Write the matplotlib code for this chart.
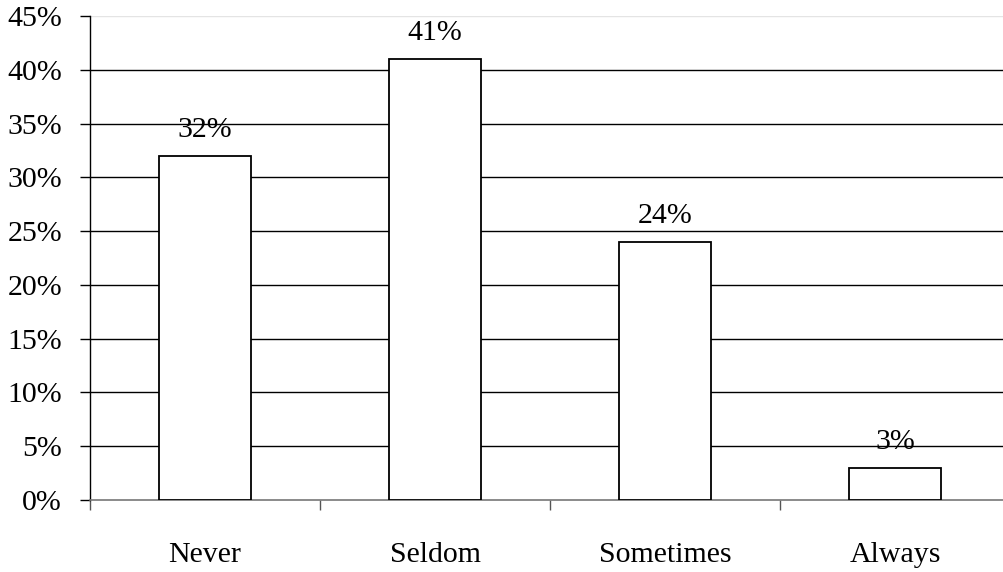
import matplotlib
matplotlib.use("Agg")
import matplotlib.pyplot as plt
from matplotlib.ticker import FixedLocator, FuncFormatter

categories = ["Never", "Seldom", "Sometimes", "Always"]
values = [32, 41, 24, 3]
y_ticks = [0, 5, 10, 15, 20, 25, 30, 35, 40, 45]

plt.rcParams["font.family"] = ["Liberation Serif", "DejaVu Serif"]
FS = 21.5

fig = plt.figure(figsize=(10.04, 5.72), dpi=100)
ax = fig.add_axes([90 / 1004, 72 / 572, 920 / 1004, 484 / 572])

x = list(range(len(categories)))
ax.bar(x, values, width=0.404, color="white", edgecolor="black",
       linewidth=1.3, zorder=3)

for xi, v in zip(x, values):
    ax.annotate(f"{v}%", (xi, v), xytext=(0, 13.5), textcoords="offset points",
                ha="center", va="baseline", fontsize=FS, zorder=4)

ax.set_xlim(-0.5, len(categories) - 0.5)
ax.set_ylim(0, 45)

# horizontal grid
for t in y_ticks[1:-1]:
    ax.axhline(t, color="black", linewidth=1.0, zorder=1)
ax.axhline(45, color="#e4e4e4", linewidth=1.0, zorder=1)

ax.yaxis.set_major_locator(FixedLocator(y_ticks))
ax.yaxis.set_major_formatter(FuncFormatter(lambda v, p: f"{int(v)}%"))
ax.tick_params(axis="y", length=7.2, width=1.0, pad=13, labelsize=FS,
               color="black")

ax.set_xticks(x)
ax.set_xticklabels(categories)
ax.set_xticks([i - 0.5 for i in range(len(categories) + 1)], minor=True)
ax.tick_params(axis="x", which="major", length=0, pad=30, labelsize=FS)
ax.tick_params(axis="x", which="minor", length=7.2, width=1.0,
               color="#555555")

for side in ("top", "right"):
    ax.spines[side].set_visible(False)
ax.spines["left"].set_linewidth(1.0)
ax.spines["left"].set_color("black")
ax.spines["bottom"].set_linewidth(1.2)
ax.spines["bottom"].set_color("#777777")

fig.savefig("out.png", dpi=100)
